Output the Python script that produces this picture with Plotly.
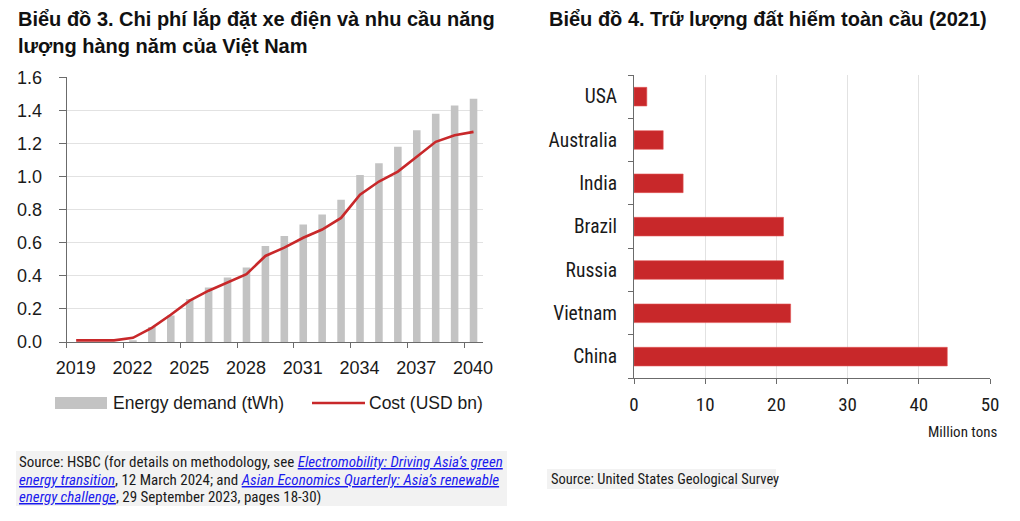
import plotly.graph_objects as go

# ---------------- data ----------------
years = list(range(2019, 2041))
energy_demand = [0.0, 0.0, 0.0, 0.01, 0.09, 0.16, 0.26, 0.33, 0.39, 0.45, 0.58,
                 0.64, 0.71, 0.77, 0.86, 1.01, 1.08, 1.18, 1.28, 1.38, 1.43, 1.47]
cost = [0.01, 0.01, 0.01, 0.025, 0.085, 0.165, 0.25, 0.31, 0.36, 0.41, 0.52,
        0.57, 0.63, 0.68, 0.75, 0.89, 0.97, 1.03, 1.12, 1.21, 1.25, 1.27]
year_labels = ["2019", "2022", "2025", "2028", "2031", "2034", "2037", "2040"]

countries = ["China", "Vietnam", "Russia", "Brazil", "India", "Australia", "USA"]
reserves = [44, 22, 21, 21, 6.9, 4.1, 1.8]

# page body has an 8px margin: figure is placed at (8, 8)
OFF = 8
W, H = 1020 - OFF, 521 - OFF
def px(x):
    return (x - OFF) / W
def py(y):
    return 1 - (y - OFF) / H

GREY = "#c3c3c3"
RED = "#c8282a"
AXIS = "#6b6b6b"
GRID = "#e2e2e2"
TXT = "#1a1a1a"
FONT = "Liberation Sans, Arial, sans-serif"
NARROW = "Roboto Condensed, DejaVu Sans Condensed, Liberation Sans, sans-serif"

fig = go.Figure()

# left chart
fig.add_trace(go.Bar(x=years, y=energy_demand, width=0.4, marker_color=GREY,
                     marker_line_width=0, name="Energy demand (tWh)",
                     xaxis="x", yaxis="y", showlegend=False))
fig.add_trace(go.Scatter(x=years, y=cost, mode="lines",
                         line=dict(color=RED, width=2.6),
                         name="Cost (USD bn)", xaxis="x", yaxis="y", showlegend=False))

# right chart
fig.add_trace(go.Bar(x=reserves, y=countries, orientation="h", width=0.43,
                     marker=dict(color=RED, line=dict(color="#e25555", width=0.6)),
                     xaxis="x2", yaxis="y2", showlegend=False))

bounds = [int(v) - 0.5 for v in year_labels]
plot_w = 483 - 66.7
shift = int(round(plot_w / len(years) / 2))

fig.update_layout(
    template="none",
    width=W, height=H,
    margin=dict(l=0, r=0, t=0, b=0, autoexpand=False),
    paper_bgcolor="white", plot_bgcolor="white",
    font=dict(family=FONT, color=TXT),
    showlegend=False,
    xaxis=dict(domain=[px(66.7), px(483)], anchor="y", range=[2018.5, 2040.5],
               automargin=False,
               tickmode="array", tickvals=bounds, ticktext=year_labels,
               ticklabelshift=shift, ticks="outside", ticklen=5, tickcolor=AXIS,
               showline=True, linecolor=AXIS, linewidth=1.2, showgrid=False,
               zeroline=False, tickfont=dict(size=18, family=FONT, color=TXT),
               ticklabelstandoff=4),
    yaxis=dict(domain=[py(342), py(77.3)], anchor="x", range=[0, 1.6], dtick=0.2,
               automargin=False,
               tickformat=".1f", ticks="outside", ticklen=7, tickcolor=AXIS,
               showline=True, linecolor=AXIS, linewidth=1.2, showgrid=True,
               gridcolor=GRID, gridwidth=1, zeroline=False,
               tickfont=dict(size=18, family=FONT, color=TXT), ticklabelstandoff=13),
    xaxis2=dict(domain=[px(634), px(990)], anchor="y2", range=[0, 50], dtick=10,
                automargin=False,
                ticks="outside", ticklen=5, tickcolor=AXIS, showline=True,
                linecolor=AXIS, linewidth=1.2, showgrid=True, gridcolor=GRID,
                zeroline=False, tickfont=dict(size=19, family=NARROW, color=TXT),
                ticklabelstandoff=4),
    yaxis2=dict(domain=[py(378.3), py(75)], anchor="x2", type="category",
                automargin=False,
                categoryorder="array", categoryarray=countries, range=[-0.5, 6.5],
                tickson="boundaries", ticks="outside", ticklen=5, tickcolor=AXIS,
                showline=True, linecolor=AXIS, linewidth=1.2, showgrid=False,
                tickfont=dict(size=19.5, family=NARROW, color=TXT), ticklabelstandoff=12),
)

annotations = []
title_font = dict(family=FONT, size=20, color="#111111")
annotations.append(dict(text="<b>Biểu đồ 3. Chi phí lắp đặt xe điện và nhu cầu năng</b>",
                        x=px(16), y=py(19), xanchor="left", yanchor="middle",
                        xref="paper", yref="paper", showarrow=False, font=title_font))
annotations.append(dict(text="<b>lượng hàng năm của Việt Nam</b>",
                        x=px(16), y=py(46), xanchor="left", yanchor="middle",
                        xref="paper", yref="paper", showarrow=False, font=title_font))
annotations.append(dict(text="<b>Biểu đồ 4. Trữ lượng đất hiếm toàn cầu (2021)</b>",
                        x=px(547), y=py(19), xanchor="left", yanchor="middle",
                        xref="paper", yref="paper", showarrow=False, font=title_font))

# legend (left chart)
leg_font = dict(family=FONT, size=17.5, color=TXT)
annotations.append(dict(text="Energy demand (tWh)", x=px(111), y=py(403),
                        xanchor="left", yanchor="middle", xref="paper", yref="paper",
                        showarrow=False, font=leg_font))
annotations.append(dict(text="Cost (USD bn)", x=px(367), y=py(403),
                        xanchor="left", yanchor="middle", xref="paper", yref="paper",
                        showarrow=False, font=leg_font))

# unit label
annotations.append(dict(text="Million tons", x=px(962), y=py(432), xanchor="center",
                        yanchor="middle", xref="paper", yref="paper", showarrow=False,
                        font=dict(family=NARROW, size=15, color=TXT)))

# sources
def link(t):
    return f"<span style='color:#1a1aee'><i><u>{t}</u></i></span>"

src_lines = [
    "Source: HSBC (for details on methodology, see "
    + link("Electromobility: Driving Asia’s green"),
    link("energy transition") + ", 12 March 2024; and "
    + link("Asian Economics Quarterly: Asia’s renewable"),
    link("energy challenge") + ", 29 September 2023, pages 18-30)",
]
src_font = dict(family=NARROW, size=15, color=TXT)
for i, line in enumerate(src_lines):
    annotations.append(dict(text=line, x=px(17), y=py(462 + 17.5 * i), xanchor="left",
                            yanchor="middle", align="left", xref="paper", yref="paper",
                            showarrow=False, font=src_font))
annotations.append(dict(text="Source: United States Geological Survey", x=px(549),
                        y=py(479), xanchor="left", yanchor="middle", align="left",
                        xref="paper", yref="paper", showarrow=False,
                        font=dict(family=NARROW, size=14.5, color=TXT)))

fig.update_layout(annotations=annotations)

shapes = [
    # source backgrounds
    dict(type="rect", xref="paper", yref="paper", x0=px(16), x1=px(507),
         y0=py(506), y1=py(451), fillcolor="#f2f2f2", line=dict(width=0), layer="below"),
    dict(type="rect", xref="paper", yref="paper", x0=px(547), x1=px(776),
         y0=py(489), y1=py(469), fillcolor="#f2f2f2", line=dict(width=0), layer="below"),
    # legend keys
    dict(type="rect", xref="paper", yref="paper", x0=px(55), x1=px(107),
         y0=py(409), y1=py(397), fillcolor=GREY, line=dict(width=0)),
    dict(type="line", xref="paper", yref="paper", x0=px(312), x1=px(365),
         y0=py(403), y1=py(403), line=dict(color=RED, width=2.6)),
]
fig.update_layout(shapes=shapes)

fig.write_html("out.html")
